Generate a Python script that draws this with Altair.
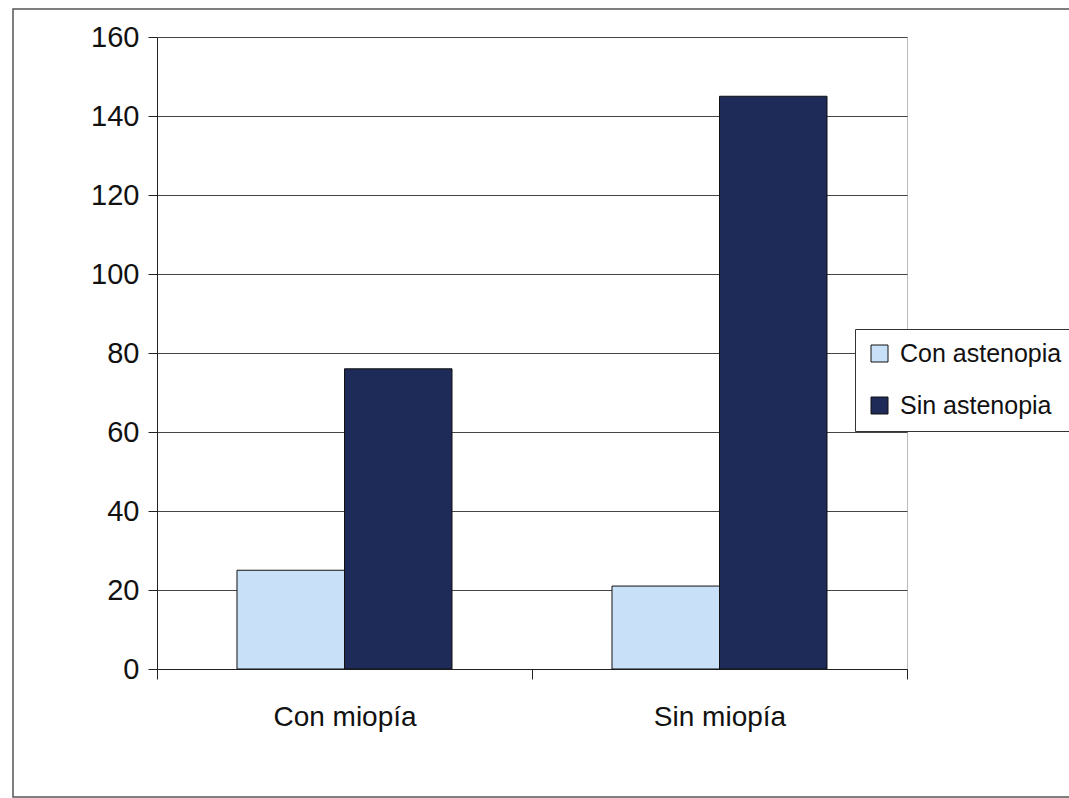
import altair as alt
import pandas as pd

# Counts of patients by myopia status and asthenopia
categories = ["Con miopía", "Sin miopía"]
series = ["Con astenopia", "Sin astenopia"]
con_astenopia = [25, 21]
sin_astenopia = [76, 145]
y_ticks = [0, 20, 40, 60, 80, 100, 120, 140, 160]
bar_colors = ["#c9e1f8", "#1e2b58"]

rows = []
for i, cat in enumerate(categories):
    rows.append({"grupo": cat, "serie": series[0], "valor": con_astenopia[i]})
    rows.append({"grupo": cat, "serie": series[1], "valor": sin_astenopia[i]})
df = pd.DataFrame(rows)

FONT = "Liberation Sans"
TEXT = "#111"

bars = alt.Chart(df).mark_bar(stroke="#111", strokeWidth=1).encode(
    x=alt.X(
        "grupo:N",
        sort=categories,
        title=None,
        scale=alt.Scale(paddingInner=0, paddingOuter=0),
        axis=alt.Axis(
            labelAngle=0,
            labelFontSize=28,
            labelFont=FONT,
            labelColor=TEXT,
            labelPadding=24,
            tickBand="extent",
            tickSize=10,
            tickColor="#222",
            domainColor="#222",
            grid=False,
        ),
    ),
    xOffset=alt.XOffset(
        "serie:N",
        sort=series,
        scale=alt.Scale(paddingInner=0, paddingOuter=0.744),
    ),
    y=alt.Y(
        "valor:Q",
        title=None,
        scale=alt.Scale(domain=[0, 160], nice=False),
        axis=alt.Axis(
            values=y_ticks,
            labelFontSize=29,
            labelFont=FONT,
            labelColor=TEXT,
            labelPadding=9,
            tickSize=9,
            tickColor="#222",
            domainColor="#222",
            grid=True,
            gridColor="#444",
            gridWidth=1,
        ),
    ),
    color=alt.Color(
        "serie:N",
        sort=series,
        scale=alt.Scale(domain=series, range=bar_colors),
        legend=alt.Legend(
            title=None,
            orient="none",
            legendX=698,
            legendY=292,
            symbolType="square",
            symbolSize=289,
            symbolStrokeColor="#111",
            symbolStrokeWidth=1,
            labelFontSize=25,
            labelFont=FONT,
            labelColor=TEXT,
            labelLimit=400,
            labelOffset=8,
            rowPadding=26,
            padding=12,
            strokeColor="#333",
            fillColor="white",
        ),
    ),
)

# Outer frame around the whole figure
frame = alt.Chart(pd.DataFrame({"k": [0]})).mark_rect(
    fillOpacity=0, stroke="#555", strokeWidth=1.5
).encode(
    x=alt.value(-144), x2=alt.value(1000), y=alt.value(-28), y2=alt.value(760)
)

chart = alt.layer(frame, bars).properties(
    width=750,
    height=632,
    autosize=alt.AutoSizeParams(type="none"),
    padding={"left": 157, "top": 37, "right": 162, "bottom": 129},
    background="white",
).configure_view(stroke="#bbb")

chart.save("out.html", embed_options={"renderer": "svg", "actions": False})
